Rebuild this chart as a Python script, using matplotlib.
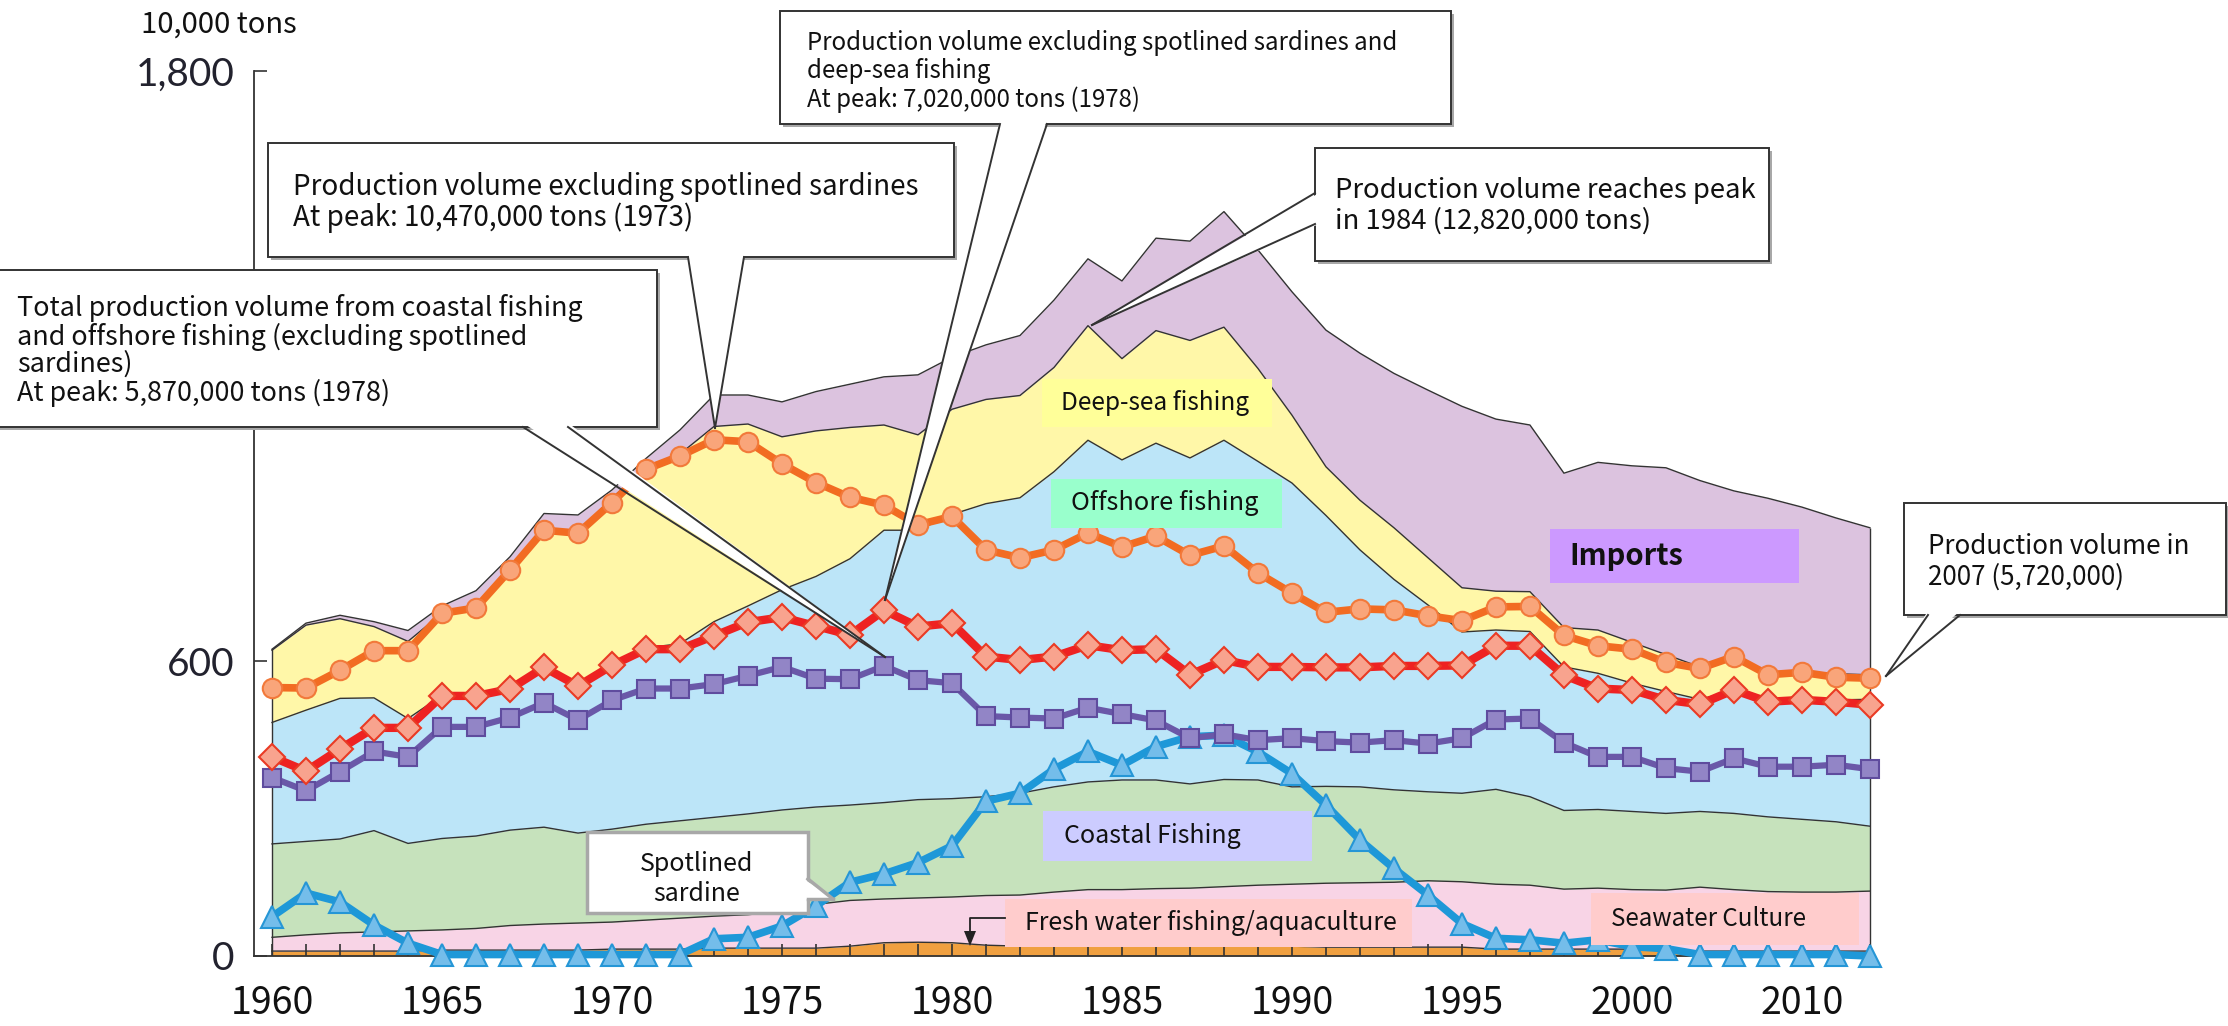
"""
Japan fishery production and imports, 1960-2007 (unit: 10,000 tons).
Stacked areas by fishery type, with four marker lines on top and
callout boxes. Values read off the reference chart.
"""

import numpy as np
import matplotlib
matplotlib.use("Agg")
import matplotlib.pyplot as plt
from matplotlib.patches import Rectangle, Polygon
from matplotlib.lines import Line2D

# -- Data (10,000 tons) --------------------------------------------------------
years = np.arange(1960, 2008)

# upper edge of each stacked layer
freshwater_top = [10, 10, 10, 10, 10, 12, 12, 12, 12, 12,
                  14, 14, 14, 16, 16, 16, 16, 20, 27, 28,
                  27, 22, 20, 20, 20, 20, 20, 20, 20, 20,
                  20, 18, 18, 18, 18, 18, 14, 14, 14, 14,
                  14, 10, 10, 10, 10, 10, 10, 10]
seawater_top = [38, 43, 47, 49, 51, 53, 56, 62, 65, 67,
                69, 73, 77, 81, 84, 91, 105, 113, 116, 118,
                120, 123, 124, 130, 135, 135, 137, 138, 141, 144,
                146, 148, 149, 150, 153, 151, 146, 144, 136, 138,
                135, 134, 140, 135, 131, 130, 130, 132]
coastal_top = [228, 233, 238, 255, 229, 239, 244, 256, 262, 250,
               258, 268, 275, 282, 289, 297, 303, 307, 312, 318,
               320, 324, 331, 344, 354, 358, 358, 350, 359, 358,
               344, 345, 344, 338, 334, 331, 339, 324, 296, 298,
               294, 290, 294, 290, 283, 278, 273, 264]
offshore_top = [475, 500, 524, 525, 483, 530, 530, 545, 590, 550,
                594, 627, 635, 680, 712, 745, 772, 808, 866, 866,
                898, 920, 932, 985, 1049, 1009, 1043, 1013, 1049, 1006,
                962, 896, 826, 766, 714, 659, 663, 660, 588, 575,
                555, 538, 522, 540, 521, 522, 521, 522]
deepsea_top = [622, 673, 686, 670, 640, 697, 709, 785, 867, 861,
               932, 991, 1021, 1077, 1082, 1056, 1068, 1075, 1080, 1060,
               1112, 1132, 1140, 1197, 1282, 1215, 1272, 1252, 1279, 1195,
               1100, 995, 927, 871, 810, 749, 742, 741, 668, 663,
               638, 613, 588, 608, 578, 576, 574, 572]
imports_top = [624, 677, 693, 680, 662, 712, 743, 812, 900, 897,
               948, 1012, 1070, 1141, 1141, 1127, 1148, 1163, 1178, 1182,
               1218, 1243, 1262, 1334, 1418, 1373, 1460, 1454, 1514, 1436,
               1351, 1273, 1226, 1185, 1151, 1118, 1092, 1080, 982, 1004,
               997, 993, 967, 946, 931, 913, 891, 871]

# marker lines
prod_ex_sardine = [546, 545, 581, 621, 621, 697, 708, 785, 866, 860,
                   922, 990, 1017, 1050, 1046, 1001, 963, 933, 917, 877,
                   894, 826, 810, 826, 860, 832, 854, 815, 834, 779,
                   738, 699, 706, 704, 692, 682, 710, 711, 652, 631,
                   624, 597, 585, 609, 572, 577, 567, 565]
prod_ex_sardine_deepsea = [405, 376, 421, 464, 464, 529, 529, 543, 587, 549,
                           591, 624, 624, 651, 679, 689, 671, 653, 703, 670,
                           677, 609, 602, 609, 632, 622, 624, 572, 602, 588,
                           588, 587, 587, 590, 590, 591, 631, 631, 571, 544,
                           541, 521, 512, 541, 517, 521, 517, 511]
coastal_offshore_ex_sardine = [363, 336, 375, 416, 405, 466, 466, 485, 515, 480,
                               520, 544, 544, 553, 570, 588, 564, 563, 590, 561,
                               555, 488, 485, 483, 505, 492, 479, 443, 451, 439,
                               443, 437, 434, 439, 432, 443, 481, 483, 434, 405,
                               405, 382, 375, 402, 385, 385, 389, 380]
sardine = [80, 128, 110, 63, 26, 3, 3, 3, 3, 3,
           3, 3, 3, 35, 38, 61, 102, 150, 167, 190,
           224, 315, 331, 380, 416, 388, 426, 446, 449, 415,
           371, 307, 236, 178, 124, 66, 36, 33, 26, 33,
           19, 15, 3, 3, 3, 3, 3, 0]

tick_years = [1960, 1965, 1970, 1975, 1980, 1985, 1990, 1995, 2000, 2005]
tick_labels = ["1960", "1965", "1970", "1975", "1980", "1985", "1990",
               "1995", "2000", "2010"]
y_ticks = [0, 600, 1800]

# -- Style ---------------------------------------------------------------------
W, H = 2228, 1026
CJK = ["Noto Sans CJK JP", "DejaVu Sans"]
EDGE = "#333333"
TXT = 19.5
LBL = 18

C_FRESH = "#f0a040"
C_SEA = "#f8d4e6"
C_COAST = "#c6e2bc"
C_OFF = "#bce5f8"
C_DEEP = "#fff7a8"
C_IMP = "#dcc3df"


def P(x, y):
    """reference pixel (top-left origin) -> figure fraction"""
    return (x / W, 1 - y / H)


def add_box(fig, x0, y0, x1, y1, fc, ec="none", lw=0.0, z=10, shadow=False):
    if shadow:
        fig.add_artist(Rectangle(P(x0 + 3, y1 + 3), (x1 - x0) / W, (y1 - y0) / H,
                                 transform=fig.transFigure, fc="#a8a8a8",
                                 ec="none", zorder=z - 0.05))
    fig.add_artist(Rectangle(P(x0, y1), (x1 - x0) / W, (y1 - y0) / H,
                             transform=fig.transFigure, fc=fc, ec=ec, lw=lw,
                             zorder=z))


def add_wedge(fig, a, b, tip, inward, ec=EDGE, lw=1.4, z=10):
    """white pointer from box edge points a,b to tip; inward = shift into box"""
    ai = (a[0] + inward[0], a[1] + inward[1])
    bi = (b[0] + inward[0], b[1] + inward[1])
    fig.add_artist(Polygon([P(*ai), P(*tip), P(*bi)], closed=True,
                           transform=fig.transFigure, fc="white", ec="none",
                           zorder=z + 0.1))
    for p in (a, b):
        fig.add_artist(Line2D([p[0] / W, tip[0] / W], [1 - p[1] / H, 1 - tip[1] / H],
                              transform=fig.transFigure, color=ec, lw=lw,
                              zorder=z + 0.2))


def add_lines(fig, x, ys, text, size=TXT, z=11, weight="normal", ha="left"):
    for yy, s in zip(ys, text):
        fig.text(x / W, 1 - yy / H, s, ha=ha, va="center", fontsize=size,
                 family=CJK, fontweight=weight, zorder=z, color="#111111")


# -- Figure --------------------------------------------------------------------
fig = plt.figure(figsize=(W / 100, H / 100), dpi=100)
ax = fig.add_axes([254 / W, 70 / H, 1620 / W, 885 / H])

zero = np.zeros(len(years))
layers = [
    (zero, freshwater_top, C_FRESH),
    (freshwater_top, seawater_top, C_SEA),
    (seawater_top, coastal_top, C_COAST),
    (coastal_top, offshore_top, C_OFF),
    (offshore_top, deepsea_top, C_DEEP),
    (deepsea_top, imports_top, C_IMP),
]
for lo, hi, col in layers:
    ax.fill_between(years, lo, hi, color=col, lw=0, zorder=1)
for top in (freshwater_top, seawater_top, coastal_top, offshore_top,
            deepsea_top, imports_top):
    ax.plot(years, top, color=EDGE, lw=1.0, zorder=1.2)
ax.vlines([years[0], years[-1]], 0, [imports_top[0], imports_top[-1]],
          colors=EDGE, lw=1.0, zorder=1.2)

ax.plot(years, sardine, color="#1e98d8", lw=5.5, marker="^", ms=16,
        mfc="#74bdea", mec="#2596d6", mew=1.5, zorder=3, clip_on=False)
ax.plot(years, coastal_offshore_ex_sardine, color="#6a58a8", lw=4.5, marker="s",
        ms=13, mfc="#9285c6", mec="#5f4c9e", mew=1.5, zorder=4, clip_on=False)
ax.plot(years, prod_ex_sardine_deepsea, color="#ee2222", lw=6, marker="D",
        ms=13, mfc="#f8a38e", mec="#ea3a24", mew=1.5, zorder=5, clip_on=False)
ax.plot(years, prod_ex_sardine, color="#f26c22", lw=5.5, marker="o",
        ms=14, mfc="#f9a57a", mec="#f2793a", mew=1.5, zorder=6, clip_on=False)

ax.set_xlim(1959.47, 2007.12)
ax.set_ylim(0, 1800)
ax.spines[["top", "right"]].set_visible(False)
for sp in ("left", "bottom"):
    ax.spines[sp].set_color(EDGE)
    ax.spines[sp].set_linewidth(1.3)
    ax.spines[sp].set_zorder(2)

ax.set_yticks(y_ticks, labels=[f"{v:,}" for v in y_ticks])
ax.tick_params(axis="y", direction="in", length=9, width=1.2, pad=14,
               labelsize=28, labelcolor="#22222e", color=EDGE)
for lab in ax.get_yticklabels():
    lab.set_family(["Lato", "DejaVu Sans"])

ax.set_xticks(tick_years, labels=tick_labels)
ax.set_xticks(years[1:], minor=True)
ax.tick_params(axis="x", which="both", direction="in", length=9, width=1.2,
               pad=20, labelsize=27, color=EDGE, labelcolor="#111111")
for lab in ax.get_xticklabels():
    lab.set_family(CJK)

fig.text(141 / W, 1 - 25 / H, "10,000 tons", ha="left", va="center",
         fontsize=21, family=CJK, color="#111111")

# -- Layer labels --------------------------------------------------------------
add_box(fig, 1042, 379, 1272, 427, "#ffff99")
add_lines(fig, 1061, [403], ["Deep-sea fishing"], size=17.6)
add_box(fig, 1051, 479, 1282, 528, "#99ffcc")
add_lines(fig, 1071, [503], ["Offshore fishing"], size=18.3)
add_box(fig, 1550, 529, 1799, 583, "#cc99ff")
add_lines(fig, 1569, [556], ["Imports"], size=21, weight="bold")
add_box(fig, 1043, 811, 1312, 861, "#ccccff")
add_lines(fig, 1064, [836], ["Coastal Fishing"], size=LBL)
add_box(fig, 1005, 899, 1412, 947, "#ffcccc")
add_lines(fig, 1025, [923], ["Fresh water fishing/aquaculture"], size=LBL)
add_box(fig, 1591, 893, 1859, 945, "#ffcccc")
add_lines(fig, 1611, [919], ["Seawater Culture"], size=17.4)

# arrow from the fresh water label down to its thin band
fig.add_artist(Line2D([1005 / W, 970 / W, 970 / W],
                      [1 - 918 / H, 1 - 918 / H, 1 - 933 / H],
                      transform=fig.transFigure, color="#222222", lw=1.3, zorder=11))
fig.add_artist(Polygon([P(964, 931), P(976, 931), P(970, 946)], closed=True,
                       transform=fig.transFigure, fc="#222222", ec="none", zorder=11))

# spotlined sardine bubble
add_box(fig, 587, 832, 808, 913, "white", ec="#a8a8a8", lw=2.5, z=10)
fig.add_artist(Polygon([P(804, 879), P(833, 899), P(804, 899)], closed=True,
                       transform=fig.transFigure, fc="white", ec="none", zorder=10.1))
for p in ((808, 879), (808, 899)):
    fig.add_artist(Line2D([p[0] / W, 833 / W], [1 - p[1] / H, 1 - 899 / H],
                          transform=fig.transFigure, color="#a8a8a8", lw=2.5,
                          zorder=10.2))
add_lines(fig, 697, [864, 894], ["Spotlined", "sardine"], size=18, ha="center")

# -- Callouts ------------------------------------------------------------------
add_box(fig, 268, 143, 954, 257, "white", ec=EDGE, lw=1.4, z=12, shadow=True)
add_wedge(fig, (688, 257), (744, 257), (715, 428), (0, -4), z=12)
add_lines(fig, 293, [187, 218],
          ["Production volume excluding spotlined sardines",
           "At peak: 10,470,000 tons (1973)"], size=20, z=13)

add_box(fig, 780, 11, 1451, 124, "white", ec=EDGE, lw=1.4, z=12, shadow=True)
add_wedge(fig, (1000, 124), (1047, 124), (885, 600), (0, -4), z=12)
add_lines(fig, 807, [43, 71, 100],
          ["Production volume excluding spotlined sardines and",
           "deep-sea fishing",
           "At peak: 7,020,000 tons (1978)"], size=17.3, z=13)

add_box(fig, -5, 270, 657, 427, "white", ec=EDGE, lw=1.4, z=12, shadow=True)
add_wedge(fig, (523, 427), (568, 427), (885, 657), (0, -4), z=12)
add_lines(fig, 17, [308, 337, 364, 393],
          ["Total production volume from coastal fishing",
           "and offshore fishing (excluding spotlined",
           "sardines)",
           "At peak: 5,870,000 tons (1978)"], size=19.4, z=13)

add_box(fig, 1315, 148, 1769, 261, "white", ec=EDGE, lw=1.4, z=12, shadow=True)
add_wedge(fig, (1315, 193), (1315, 224), (1092, 325), (4, 0), z=12)
add_lines(fig, 1335, [191, 221],
          ["Production volume reaches peak",
           "in 1984 (12,820,000 tons)"], size=19.8, z=13)

add_box(fig, 1904, 503, 2226, 615, "white", ec=EDGE, lw=1.4, z=12, shadow=True)
add_wedge(fig, (1928, 615), (1960, 615), (1886, 676), (0, -4), z=12)
add_lines(fig, 1928, [546, 577],
          ["Production volume in", "2007 (5,720,000)"], size=18.7, z=13)

fig.savefig("out.png", dpi=100)
